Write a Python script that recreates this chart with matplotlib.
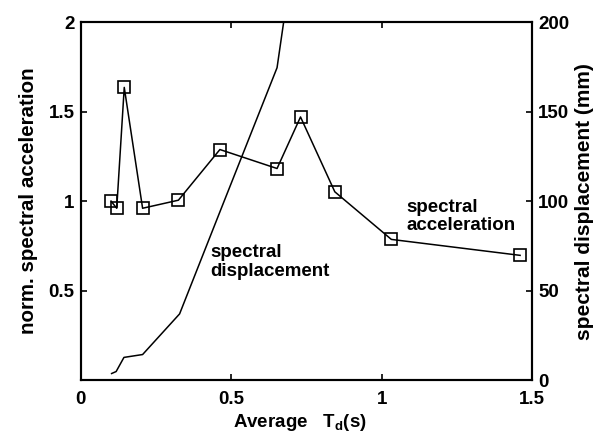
import matplotlib
matplotlib.use("Agg")
import matplotlib.pyplot as plt

plt.rcParams['font.family'] = ['Liberation Sans', 'DejaVu Sans']
plt.rcParams['font.weight'] = 'bold'
plt.rcParams['axes.labelweight'] = 'bold'

# Spectral acceleration (normalized), left axis
td_acc = [0.100, 0.119, 0.144, 0.205, 0.324, 0.462, 0.652, 0.730, 0.844, 1.032, 1.460]
acc = [1.00, 0.96, 1.635, 0.96, 1.005, 1.288, 1.182, 1.47, 1.052, 0.786, 0.697]

# Spectral displacement (mm), right axis
td_disp = [0.102, 0.117, 0.143, 0.205, 0.328, 0.462, 0.652, 0.730]
disp = [3.7, 4.8, 12.7, 14.3, 37.0, 94.0, 174.5, 265.0]

xticks = [0, 0.5, 1, 1.5]
xticklabels = ['0', '0.5', '1', '1.5']
yticks_left = [0.5, 1, 1.5, 2]
yticklabels_left = ['0.5', '1', '1.5', '2']
yticks_right = [0, 50, 100, 150, 200]
yticklabels_right = ['0', '50', '100', '150', '200']

fig = plt.figure(figsize=(6.04, 4.41), dpi=100)
ax = fig.add_axes([0.134, 0.138, 0.747, 0.812])
ax2 = ax.twinx()

ax.plot(td_acc, acc, color='black', lw=1.1, marker='s', markersize=8.5,
        markerfacecolor='none', markeredgecolor='black', markeredgewidth=1.2, zorder=3)
ax2.plot(td_disp, disp, color='black', lw=1.1)

ax.set_xlim(0, 1.5)
ax.set_ylim(0, 2)
ax2.set_ylim(0, 200)

ax.set_xticks(xticks)
ax.set_xticklabels(xticklabels)
ax.set_yticks(yticks_left)
ax.set_yticklabels(yticklabels_left)
ax2.set_yticks(yticks_right)
ax2.set_yticklabels(yticklabels_right)

for a in (ax, ax2):
    for s in a.spines.values():
        s.set_linewidth(1.5)
    a.tick_params(direction='in', length=4.5, width=1.2, labelsize=13.5, pad=4.5)
ax.tick_params(axis='x', pad=8)
ax.tick_params(top=True, labeltop=False)

ax.set_xlabel('Average   T$\\mathregular{_d}$(s)', fontsize=13.5, labelpad=3)
ax.xaxis.label.set_x(0.486)
ax.set_ylabel('norm. spectral acceleration', fontsize=14.8, labelpad=8)
ax2.set_ylabel('spectral displacement (mm)', fontsize=15, labelpad=4)

ax.text(0.43, 0.66, 'spectral\ndisplacement', fontsize=13.5, ha='left', va='center',
        linespacing=1.1)
ax.text(1.083, 0.915, 'spectral\nacceleration', fontsize=13.5, ha='left', va='center',
        linespacing=1.1)

fig.savefig('out.png', dpi=100)
